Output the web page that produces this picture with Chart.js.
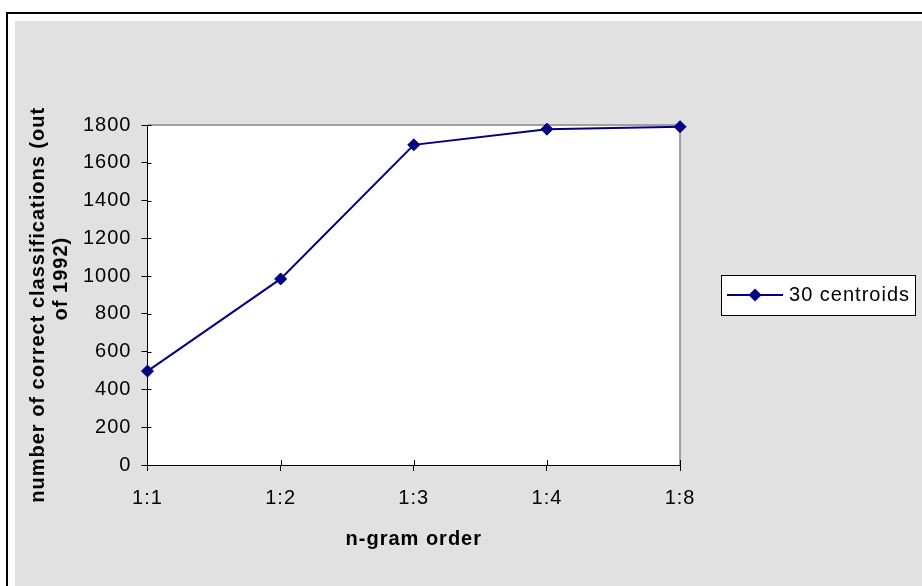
<!DOCTYPE html>
<html>
<head>
<meta charset="utf-8">
<script src="https://cdn.jsdelivr.net/npm/chart.js@4"></script>
<style>
  html, body { margin: 0; padding: 0; background: #fff; }
  body { width: 922px; height: 586px; overflow: hidden; position: relative; }
  #frame { position: absolute; left: 6px; top: 12px; width: 940px; height: 600px; border-left: 2px solid #000; border-top: 2px solid #000; }
  #wrap { position: absolute; left: 15px; top: 21px; width: 907px; height: 565px; }
</style>
</head>
<body>
<div id="frame"></div>
<div id="wrap"><canvas id="myChart" width="907" height="565"></canvas></div>
<script>
// datos
var categories = ['1:1', '1:2', '1:3', '1:4', '1:8'];
var centroids30 = [497, 985, 1695, 1778, 1791];
var seriesLabel = '30 centroids';
var xTitle = 'n-gram order';
// los espacios desplazan cada linea como en el original
var yTitle = ['number of correct classifications (out   ', '     of 1992)'];
var yMin = 0;
var yMax = 1800;
var yStep = 200;

var navy = '#000080';
var gray = '#e1e1e1';

Chart.defaults.font.family = 'Arial, "Liberation Sans", sans-serif';
Chart.defaults.color = '#000';

// marcador de la leyenda: linea + rombo
function legendMarker() {
  var c = document.createElement('canvas');
  c.width = 56;
  c.height = 14;
  var g = c.getContext('2d');
  g.strokeStyle = navy;
  g.lineWidth = 2;
  g.beginPath();
  g.moveTo(0, 7);
  g.lineTo(56, 7);
  g.stroke();
  g.fillStyle = navy;
  g.beginPath();
  g.moveTo(28, 0.5);
  g.lineTo(34.5, 7);
  g.lineTo(28, 13.5);
  g.lineTo(21.5, 7);
  g.closePath();
  g.fill();
  return c;
}
var marker = legendMarker();

// fondo gris, area blanca, caja de la leyenda
var excelLook = {
  id: 'excelLook',
  beforeUpdate: function (chart) {
    chart.ctx.letterSpacing = '1px';
  },
  beforeDraw: function (chart) {
    var ctx = chart.ctx;
    var a = chart.chartArea;
    ctx.letterSpacing = '1px';
    ctx.save();
    ctx.fillStyle = gray;
    ctx.fillRect(0, 0, chart.width, chart.height);
    ctx.fillStyle = '#fff';
    ctx.fillRect(a.left, a.top, a.right - a.left, a.bottom - a.top);
    var hb = chart.legend && chart.legend.legendHitBoxes[0];
    if (hb) {
      var bx = Math.round(hb.left - 10) + 0.5;
      var by = Math.round(hb.top + hb.height / 2 - 20) + 0.5;
      var bw = Math.round(hb.width + 15);
      ctx.fillStyle = '#fff';
      ctx.fillRect(bx, by, bw, 40);
      ctx.strokeStyle = '#000';
      ctx.lineWidth = 1;
      ctx.strokeRect(bx, by, bw, 40);
    }
    ctx.restore();
  },
  beforeDatasetsDraw: function (chart) {
    var ctx = chart.ctx;
    var a = chart.chartArea;
    var x = chart.scales.x;
    var y = chart.scales.y;
    ctx.save();
    // borde gris arriba y a la derecha
    ctx.strokeStyle = '#a0a0a0';
    ctx.lineWidth = 2;
    ctx.beginPath();
    ctx.moveTo(a.left, a.top);
    ctx.lineTo(a.right, a.top);
    ctx.lineTo(a.right, a.bottom);
    ctx.stroke();
    // marcas que cruzan los ejes hacia dentro
    ctx.strokeStyle = '#000';
    ctx.lineWidth = 1;
    ctx.beginPath();
    for (var i = 0; i < x.ticks.length; i++) {
      var px = Math.round(x.getPixelForTick(i)) + 0.5;
      ctx.moveTo(px, a.bottom - 5);
      ctx.lineTo(px, a.bottom);
    }
    for (var j = 0; j < y.ticks.length; j++) {
      var py = Math.round(y.getPixelForTick(j)) + 0.5;
      ctx.moveTo(a.left, py);
      ctx.lineTo(a.left + 4, py);
    }
    ctx.stroke();
    ctx.restore();
  }
};

var ctx = document.getElementById('myChart').getContext('2d');
var myChart = new Chart(ctx, {
  type: 'line',
  data: {
    labels: categories,
    datasets: [{
      label: seriesLabel,
      data: centroids30,
      borderColor: navy,
      backgroundColor: navy,
      borderWidth: 2,
      tension: 0,
      pointStyle: 'rectRot',
      pointRadius: 6,
      pointHoverRadius: 6,
      pointBackgroundColor: navy,
      pointBorderColor: navy,
      pointBorderWidth: 1,
      clip: false
    }]
  },
  options: {
    responsive: false,
    animation: false,
    devicePixelRatio: 1,
    layout: {
      padding: { top: 104, bottom: 35, left: 12, right: 2 }
    },
    plugins: {
      tooltip: { enabled: false },
      legend: {
        position: 'right',
        fullSize: false,
        maxWidth: 400,
        labels: {
          usePointStyle: true,
          pointStyleWidth: 48,
          padding: 51,
          color: '#000',
          font: { size: 20 },
          generateLabels: function (chart) {
            return chart.data.datasets.map(function (ds, i) {
              return {
                text: ds.label,
                pointStyle: marker,
                fillStyle: navy,
                strokeStyle: navy,
                lineWidth: 0,
                hidden: false,
                datasetIndex: i
              };
            });
          }
        }
      }
    },
    scales: {
      x: {
        type: 'category',
        offset: false,
        grid: { display: true, drawOnChartArea: false, drawTicks: true, tickLength: 6, tickColor: '#000', tickWidth: 1 },
        border: { display: true, color: '#000', width: 1 },
        ticks: { color: '#000', font: { size: 20 }, padding: 15, maxRotation: 0, autoSkip: false },
        title: {
          display: true,
          text: xTitle,
          color: '#000',
          font: { size: 20, weight: 'bold' },
          padding: { top: 2, bottom: 0 }
        }
      },
      y: {
        min: yMin,
        max: yMax,
        grid: { display: true, drawOnChartArea: false, drawTicks: true, tickLength: 6, tickColor: '#000', tickWidth: 1 },
        border: { display: true, color: '#000', width: 1 },
        ticks: {
          stepSize: yStep,
          color: '#000',
          font: { size: 20 },
          padding: 10,
          callback: function (value) { return String(value); }
        },
        title: {
          display: true,
          text: yTitle,
          color: '#000',
          font: { size: 20, weight: 'bold', lineHeight: 1.15 },
          padding: { top: 0, bottom: 0 }
        }
      }
    }
  },
  plugins: [excelLook]
});
</script>
</body>
</html>
